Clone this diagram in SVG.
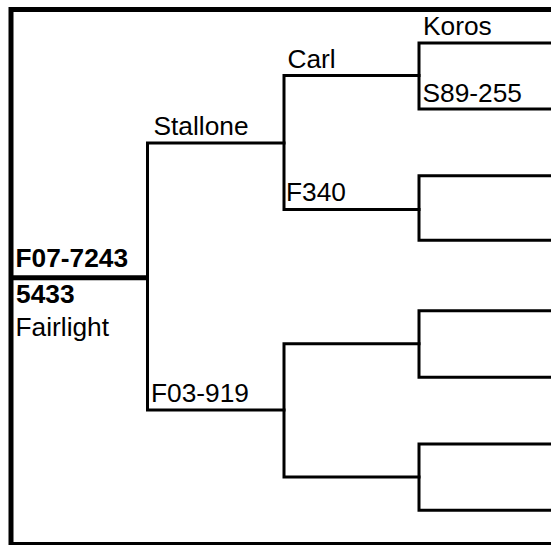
<svg xmlns="http://www.w3.org/2000/svg" width="551" height="545" viewBox="0 0 551 545">
<style>
.l{fill:none;stroke:#000;stroke-width:3;stroke-linejoin:miter;stroke-linecap:square}
.t{font-family:"Liberation Sans",Arial,sans-serif;font-size:26.3px;fill:#000}
.b{font-weight:bold}
</style>
<rect width="551" height="545" fill="#fff"/>
<rect x="11" y="9.5" width="600" height="535" fill="none" stroke="#000" stroke-width="5"/>
<g id="connectors">
<path d="M11 277.8H147.5" stroke="#000" stroke-width="5" fill="none"/>
<path class="l" d="M284 143H147.5V410H284"/>
<path class="l" d="M419 75.5H284V209.5H419"/>
<path class="l" d="M419 343.7H284V477H419"/>
<path class="l" d="M560 43H419V109H560"/>
<path class="l" d="M560 175.7H419V240.3H560"/>
<path class="l" d="M560 310.7H419V377.3H560"/>
<path class="l" d="M560 444H419V510.3H560"/>
</g>
<g id="root">
<text class="t b" x="15.5" y="266.5">F07-7243</text>
<text class="t b" x="16" y="303">5433</text>
<text class="t" x="15.5" y="335.5">Fairlight</text>
</g>
<g id="stallone"><text class="t" x="153.5" y="135">Stallone</text></g>
<g id="f03-919"><text class="t" x="151" y="402">F03-919</text></g>
<g id="carl"><text class="t" x="287.5" y="67.5">Carl</text></g>
<g id="f340"><text class="t" x="286" y="200.5">F340</text></g>
<g id="koros"><text class="t" x="423" y="34.5">Koros</text></g>
<g id="s89-255"><text class="t" x="422.5" y="101.5">S89-255</text></g>
</svg>
